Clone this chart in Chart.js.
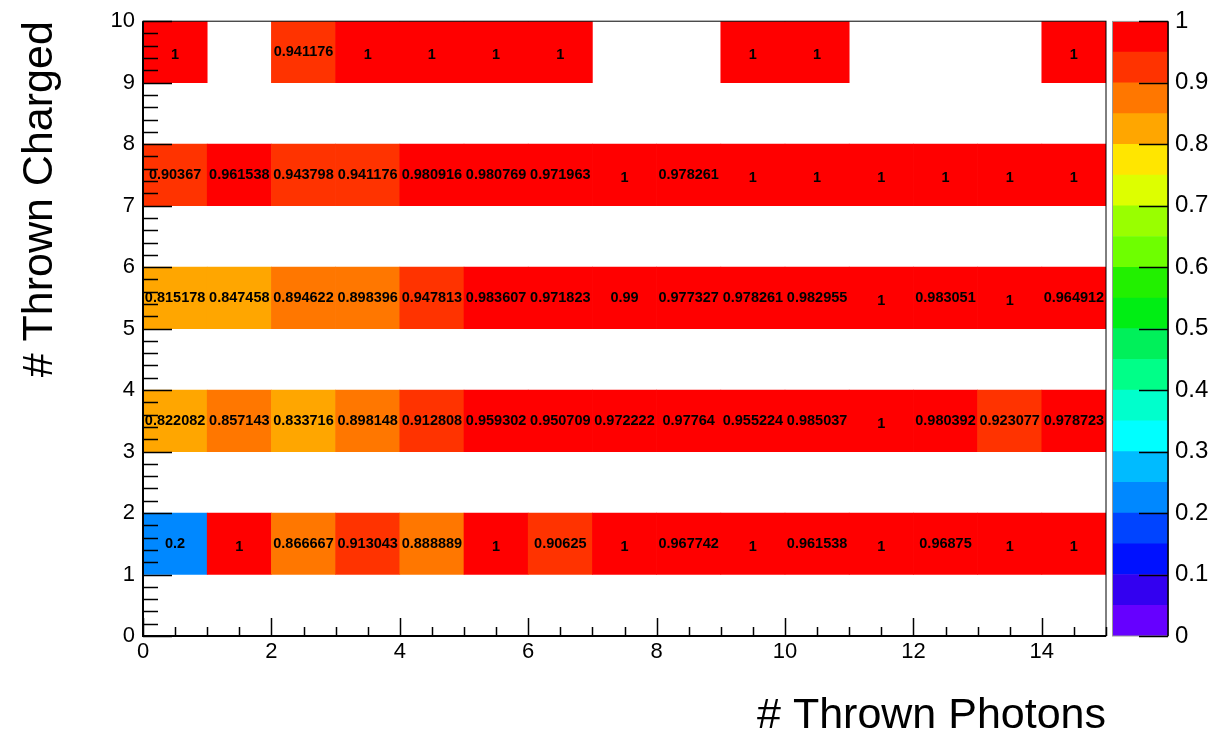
<!DOCTYPE html>
<html>
<head>
<meta charset="utf-8">
<script src="https://cdn.jsdelivr.net/npm/chart.js@4.4.1/dist/chart.umd.min.js"></script>
<style>
  html, body { margin: 0; padding: 0; background: #fff; }
  #wrap { position: relative; width: 1211px; height: 738px; }
  #main { position: absolute; left: 0; top: 0; }
  #palette { position: absolute; left: 1112px; top: 0; }
</style>
</head>
<body>
<div id="wrap">
  <canvas id="main" width="1211" height="738"></canvas>
  <canvas id="palette" width="99" height="738"></canvas>
</div>
<script>
// photon bins (x) and lower edge of each filled charged row (y)
const photonBins = ['0', '1', '2', '3', '4', '5', '6', '7', '8', '9', '10', '11', '12', '13', '14'];
const chargedLow = [1, 3, 5, 7, 9];

// efficiency per photon bin, one array per charged row (null = empty bin)
const charged1 = [0.2, 1, 0.866667, 0.913043, 0.888889, 1, 0.90625, 1, 0.967742, 1, 0.961538, 1, 0.96875, 1, 1];
const charged3 = [0.822082, 0.857143, 0.833716, 0.898148, 0.912808, 0.959302, 0.950709, 0.972222, 0.97764, 0.955224, 0.985037, 1, 0.980392, 0.923077, 0.978723];
const charged5 = [0.815178, 0.847458, 0.894622, 0.898396, 0.947813, 0.983607, 0.971823, 0.99, 0.977327, 0.978261, 0.982955, 1, 0.983051, 1, 0.964912];
const charged7 = [0.90367, 0.961538, 0.943798, 0.941176, 0.980916, 0.980769, 0.971963, 1, 0.978261, 1, 1, 1, 1, 1, 1];
const charged9 = [1, null, 0.941176, 1, 1, 1, 1, null, null, 1, 1, null, null, null, 1];
const rows = [charged1, charged3, charged5, charged7, charged9];

const xTickLabels = [0, 2, 4, 6, 8, 10, 12, 14];
const yTickLabels = [0, 1, 2, 3, 4, 5, 6, 7, 8, 9, 10];
const zTickLabels = [0, 0.1, 0.2, 0.3, 0.4, 0.5, 0.6, 0.7, 0.8, 0.9, 1];

// colour palette, 20 contour levels
const zLevels = [0, 0.05, 0.1, 0.15, 0.2, 0.25, 0.3, 0.35, 0.4, 0.45, 0.5, 0.55, 0.6, 0.65, 0.7, 0.75, 0.8, 0.85, 0.9, 0.95, 1];
const paletteColors = [
  'rgb(102,0,255)', 'rgb(51,0,240)', 'rgb(0,17,255)', 'rgb(0,68,255)', 'rgb(0,136,255)',
  'rgb(0,187,255)', 'rgb(0,255,255)', 'rgb(0,255,204)', 'rgb(0,255,136)', 'rgb(0,240,90)',
  'rgb(0,238,20)', 'rgb(34,240,0)', 'rgb(110,255,0)', 'rgb(153,255,0)', 'rgb(221,255,0)',
  'rgb(255,230,0)', 'rgb(255,166,0)', 'rgb(255,119,0)', 'rgb(255,51,0)', 'rgb(255,0,0)'
];

const FONT = '"Liberation Sans", Arial, Helvetica, sans-serif';

function colorFor(v) {
  let k = Math.floor(v / 0.05 + 1e-9);
  if (k > 19) k = 19;
  return paletteColors[k];
}

const cellText = {
  id: 'cellText',
  afterDatasetsDraw(chart) {
    const ctx = chart.ctx;
    ctx.save();
    ctx.font = 'bold 14.5px ' + FONT;
    ctx.fillStyle = '#000';
    ctx.textAlign = 'center';
    ctx.textBaseline = 'middle';
    chart.data.datasets.forEach((ds, di) => {
      const meta = chart.getDatasetMeta(di);
      ds.values.forEach((v, i) => {
        if (v == null) return;
        const p = meta.data[i].getCenterPoint();
        const drop = Number.isInteger(v) ? 3 : 0;
        ctx.fillText(String(v), p.x, p.y + drop);
      });
    });
    ctx.restore();
  }
};

const frameTicks = {
  id: 'frameTicks',
  afterDraw(chart) {
    const ctx = chart.ctx;
    const a = chart.chartArea;
    const xs = chart.scales.xl, ys = chart.scales.y;
    ctx.save();
    ctx.strokeStyle = '#000';
    ctx.lineWidth = 1;
    ctx.strokeRect(a.left, a.top, a.right - a.left, a.bottom - a.top);
    ctx.lineWidth = 1.5;
    ctx.beginPath();
    for (let i = 0; i <= 30; i++) {
      const v = i * 0.5;
      const px = Math.round(xs.getPixelForValue(v)) + 0.5;
      const len = (i % 4 === 0) ? 18 : 9;
      ctx.moveTo(px, a.bottom);
      ctx.lineTo(px, a.bottom - len);
    }
    for (let i = 0; i <= 50; i++) {
      const v = i * 0.2;
      const py = Math.round(ys.getPixelForValue(v)) + 0.5;
      const len = (i % 5 === 0) ? 29 : 15;
      ctx.moveTo(a.left, py);
      ctx.lineTo(a.left + len, py);
    }
    ctx.stroke();
    ctx.lineWidth = 2;
    ctx.beginPath();
    ctx.moveTo(a.left, a.top);
    ctx.lineTo(a.left, a.bottom);
    ctx.lineTo(a.right, a.bottom);
    ctx.stroke();
    ctx.restore();
  }
};

new Chart(document.getElementById('main'), {
  type: 'bar',
  data: {
    labels: photonBins,
    datasets: rows.map((vals, r) => ({
      values: vals,
      data: vals.map(v => v == null ? null : [chargedLow[r], chargedLow[r] + 1]),
      backgroundColor: vals.map(v => v == null ? 'rgba(0,0,0,0)' : colorFor(v)),
      borderWidth: 0,
      barPercentage: 1,
      categoryPercentage: 1,
      grouped: false,
      xAxisID: 'x',
      yAxisID: 'y'
    }))
  },
  options: {
    responsive: false,
    animation: false,
    events: [],
    layout: { padding: { left: 0, top: 18, right: 105, bottom: 0 } },
    plugins: { legend: { display: false }, tooltip: { enabled: false } },
    scales: {
      x: { type: 'category', display: false, offset: true, grid: { display: false } },
      xl: {
        type: 'linear', position: 'bottom', min: 0, max: 15, offset: false,
        afterBuildTicks: s => { s.ticks = xTickLabels.map(v => ({ value: v })); },
        afterFit: s => { s.height = 102; },
        grid: { display: false, drawTicks: false, offset: false },
        border: { display: false },
        ticks: { padding: 3, color: '#000', autoSkip: false, maxRotation: 0, font: { size: 22, family: FONT } },
        title: { display: true, text: '# Thrown Photons', align: 'end', color: '#000', padding: 0,
                 font: { size: 43, family: FONT, lineHeight: 1 } }
      },
      y: {
        type: 'linear', position: 'left', min: 0, max: 10,
        afterBuildTicks: s => { s.ticks = yTickLabels.map(v => ({ value: v })); },
        afterFit: s => { s.width = 143; },
        grid: { display: false, drawTicks: false },
        border: { display: false },
        ticks: { padding: 8, color: '#000', autoSkip: false, font: { size: 22, family: FONT } },
        title: { display: true, text: '# Thrown Charged', align: 'end', color: '#000', padding: { top: 19, bottom: 0 },
                 font: { size: 43, family: FONT, lineHeight: 1 } }
      }
    }
  },
  plugins: [cellText, frameTicks]
});

const paletteFrame = {
  id: 'paletteFrame',
  afterDraw(chart) {
    const ctx = chart.ctx;
    const a = chart.chartArea;
    const ys = chart.scales.y;
    ctx.save();
    ctx.strokeStyle = '#999';
    ctx.lineWidth = 1;
    ctx.strokeRect(a.left + 0.5, a.top, a.right - a.left, a.bottom - a.top);
    ctx.strokeStyle = '#000';
    ctx.lineWidth = 1.5;
    ctx.beginPath();
    ctx.moveTo(a.right, a.top);
    ctx.lineTo(a.right, a.bottom);
    zTickLabels.forEach(v => {
      const py = Math.round(ys.getPixelForValue(v)) + 0.5;
      ctx.moveTo(a.right, py);
      ctx.lineTo(a.right - 29, py);
    });
    ctx.stroke();
    ctx.restore();
  }
};

new Chart(document.getElementById('palette'), {
  type: 'bar',
  data: {
    labels: ['z'],
    datasets: paletteColors.map((c, k) => ({
      data: [[zLevels[k], zLevels[k + 1]]],
      backgroundColor: c,
      borderWidth: 0,
      barPercentage: 1,
      categoryPercentage: 1,
      grouped: false
    }))
  },
  options: {
    responsive: false,
    animation: false,
    events: [],
    layout: { padding: { left: 0, top: 18, right: 0, bottom: 102 } },
    plugins: { legend: { display: false }, tooltip: { enabled: false } },
    scales: {
      x: { type: 'category', display: false, offset: true, grid: { display: false } },
      y: {
        type: 'linear', position: 'right', min: 0, max: 1,
        afterBuildTicks: s => { s.ticks = zTickLabels.map(v => ({ value: v })); },
        afterFit: s => { s.width = 43; },
        grid: { display: false, drawTicks: false },
        border: { display: false },
        ticks: { padding: 7, color: '#000', autoSkip: false, callback: v => String(v), font: { size: 24, family: FONT } }
      }
    }
  },
  plugins: [paletteFrame]
});
</script>
</body>
</html>
